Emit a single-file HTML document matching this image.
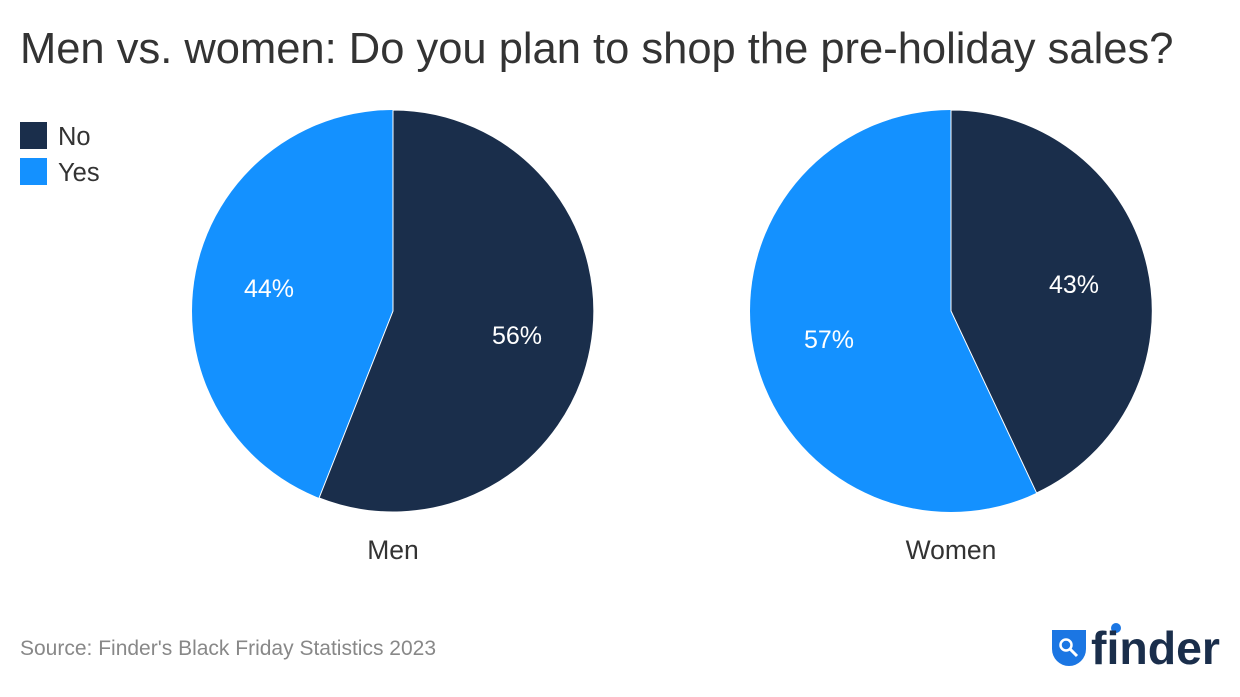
<!DOCTYPE html>
<html><head><meta charset="utf-8"><style>
html,body{margin:0;padding:0;background:#fff;}
body{width:1240px;height:692px;overflow:hidden;font-family:"Liberation Sans",sans-serif;}
</style></head><body>
<svg width="1240" height="692" viewBox="0 0 1240 692" xmlns="http://www.w3.org/2000/svg" font-family="Liberation Sans, sans-serif">
<rect width="1240" height="692" fill="#fff"/>
<text x="20" y="63" font-size="43.5" fill="#333">Men vs. women: Do you plan to shop the pre-holiday sales?</text>
<rect x="20" y="122" width="27" height="27" fill="#1a2e4b"/>
<text x="58" y="145" font-size="25.5" fill="#333">No</text>
<rect x="20" y="158" width="27" height="27" fill="#1491ff"/>
<text x="58" y="181" font-size="25.5" fill="#333">Yes</text>
<!-- Men -->
<circle cx="393" cy="311" r="201" fill="#1491ff"/>
<path d="M393,311 L393,110 A201,201 0 1,1 319.1,498 Z" fill="#1a2e4b" stroke="#fff" stroke-width="1"/>
<text x="517" y="344" font-size="25" fill="#fff" text-anchor="middle">56%</text>
<text x="269" y="297" font-size="25" fill="#fff" text-anchor="middle">44%</text>
<text x="393" y="559" font-size="26.5" fill="#333" text-anchor="middle">Men</text>
<!-- Women -->
<circle cx="951" cy="311" r="201" fill="#1491ff"/>
<path d="M951,311 L951,110 A201,201 0 0,1 1036.6,493 Z" fill="#1a2e4b" stroke="#fff" stroke-width="1"/>
<text x="1074" y="293" font-size="25" fill="#fff" text-anchor="middle">43%</text>
<text x="829" y="348" font-size="25" fill="#fff" text-anchor="middle">57%</text>
<text x="951" y="559" font-size="26.5" fill="#333" text-anchor="middle">Women</text>
<text x="20" y="655" font-size="21" fill="#888">Source: Finder's Black Friday Statistics 2023</text>
<!-- logo -->
<path d="M1052,630 L1086,630 L1086,649 A17,17 0 1,1 1052,649 Z" fill="#1b76e3"/>
<circle cx="1066" cy="645" r="5.5" fill="none" stroke="#fff" stroke-width="2.5"/>
<line x1="1070" y1="649" x2="1077" y2="656" stroke="#fff" stroke-width="3"/>
<circle cx="1116" cy="628" r="5" fill="#1b76e3"/>
<text x="1091" y="664" font-size="46" font-weight="bold" fill="#1a2e4b" letter-spacing="0" textLength="129" lengthAdjust="spacingAndGlyphs">finder</text>
</svg>
</body></html>
